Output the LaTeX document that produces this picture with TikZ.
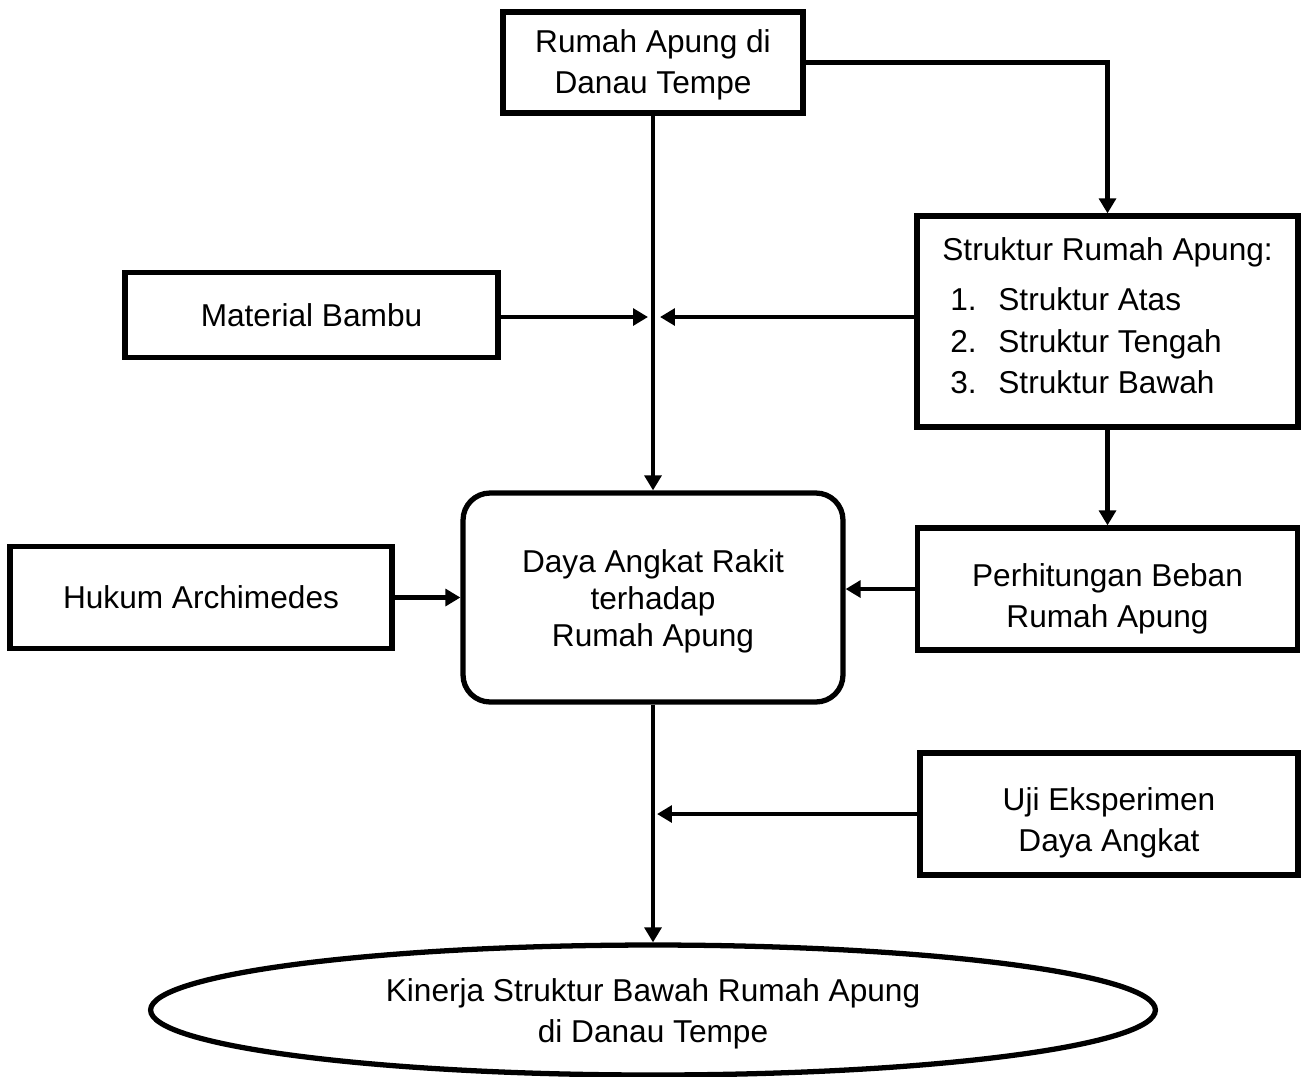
\documentclass[tikz,border=0pt]{standalone}
\usepackage{fontspec}
\setmainfont{Liberation Sans}
\usetikzlibrary{arrows.meta,shapes.geometric}
\begin{document}
\begin{tikzpicture}[x=0.02cm,y=-0.02cm,
  txt/.style={font=\fontsize{18pt}{23pt}\selectfont, inner sep=0pt, align=center},
  box/.style={draw, line width=3pt, inner sep=0pt,
    font=\fontsize{18pt}{23pt}\selectfont},
  rbox/.style={box, rounded corners=0.54cm},
  ebox/.style={box, ellipse},
  arr/.style={line width=2.7pt, -{Triangle[length=8.5pt,width=9.5pt]}}]
\useasboundingbox (0,0) rectangle (1310,1076);

\node[box, minimum width=6cm, minimum height=2.02cm] (top) at (653,62.5) {};
\node[txt] (topT) at (653,65) {Rumah Apung di\\Danau Tempe};

\node[box, minimum width=7.62cm, minimum height=4.22cm] (struk) at (1107.5,321.5) {};
\node[txt, anchor=base west] (sh) at (942,260) {Struktur Rumah Apung:};
\node[txt, anchor=base west] (n1) at (950,310) {1.};
\node[txt, anchor=base west] (s1) at (998,310) {Struktur Atas};
\node[txt, anchor=base west] (n2) at (950,352) {2.};
\node[txt, anchor=base west] (s2) at (998,352) {Struktur Tengah};
\node[txt, anchor=base west] (n3) at (950,393) {3.};
\node[txt, anchor=base west] (s3) at (998,393) {Struktur Bawah};

\node[box, minimum width=7.46cm, minimum height=1.7cm] (mat) at (311.5,315) {Material Bambu};

\node[rbox, minimum width=7.6cm, minimum height=4.18cm] (daya) at (653,597.5) {};
\node[txt, font=\fontsize{18pt}{21pt}\selectfont] (dayaT) at (653,601) {Daya Angkat Rakit\\terhadap\\Rumah Apung};

\node[box, minimum width=7.64cm, minimum height=2.04cm] (huk) at (201,597.5) {Hukum Archimedes};

\node[box, minimum width=7.6cm, minimum height=2.44cm] (perh) at (1107.5,589) {};
\node[txt] (perhT) at (1107.5,599) {Perhitungan Beban\\Rumah Apung};

\node[box, minimum width=7.56cm, minimum height=2.44cm] (uji) at (1109,814) {};
\node[txt] (ujiT) at (1109,823) {Uji Eksperimen\\Daya Angkat};

\node[ebox, minimum width=20.1cm, minimum height=2.6cm] (ell) at (653,1010) {};
\node[txt] (ellT) at (653,1014) {Kinerja Struktur Bawah Rumah Apung\\di Danau Tempe};

\coordinate (jm) at (648,317);
\coordinate (js) at (660,317);
\coordinate (ju) at (657,814);

\draw[arr] (top.south) -- (daya.north);
\draw[arr] (top.east) -| (struk.north);
\draw[arr] (mat.east |- jm) -- (jm);
\draw[arr] (struk.west |- js) -- (js);
\draw[arr] (struk.south) -- (perh.north);
\draw[arr] (huk.east) -- (daya.west);
\draw[arr] (perh.west) -- (perh.west -| daya.east);
\draw[arr] (daya.south) -- (ell.north);
\draw[arr] (uji.west) -- (uji.west -| ju);
\end{tikzpicture}
\end{document}
